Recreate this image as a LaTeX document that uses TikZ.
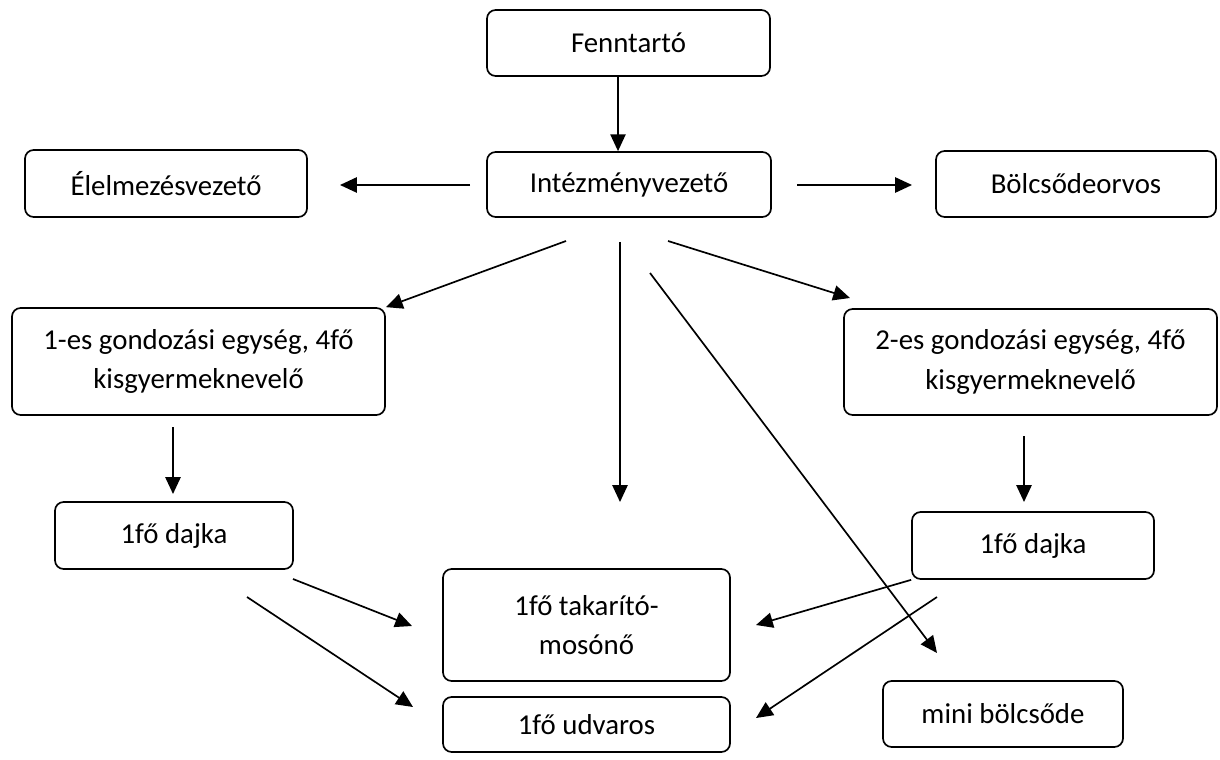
\documentclass[tikz,border=0pt]{standalone}
\usepackage{fontspec}
\setmainfont{Carlito}
\usetikzlibrary{arrows.meta}
\tikzset{every picture/.style={line width=1.2pt}}

\begin{document}
\begin{tikzpicture}[x=0.025cm,y=-0.025cm,
box/.style={draw,rounded corners=1.3ex,align=center,inner sep=0pt,font=\fontsize{20.5}{28}\selectfont},
arr/.style={-{Triangle[length=0.42cm,width=0.38cm]}}]
\useasboundingbox (0,0) rectangle (1220,760);
\node (fenn) at (628.5,43) [box,minimum width=7.075cm,minimum height=1.65cm] {Fenntartó};
\node (int) at (629,184.5) [box,minimum width=7.1cm,minimum height=1.625cm] {Intézményvezető};
\node (elel) at (166,183.5) [box,minimum width=7.05cm,minimum height=1.675cm] {Élelmezésvezető};
\node (orv) at (1076,184) [box,minimum width=7cm,minimum height=1.65cm] {Bölcsődeorvos};
\node (egy1) at (198.5,361.5) [box,minimum width=9.325cm,minimum height=2.675cm] {1-es gondozási egység, 4fő\\kisgyermeknevelő};
\node (egy2) at (1030.5,362) [box,minimum width=9.325cm,minimum height=2.65cm] {2-es gondozási egység, 4fő\\kisgyermeknevelő};
\node (dajka1) at (174,535.5) [box,minimum width=5.95cm,minimum height=1.675cm] {1fő dajka};
\node (dajka2) at (1033,545.5) [box,minimum width=6.05cm,minimum height=1.675cm] {1fő dajka};
\node (tak) at (586.5,625) [box,minimum width=7.175cm,minimum height=2.8cm] {1fő takarító-\\mosónő};
\node (udv) at (586.5,724.5) [box,minimum width=7.175cm,minimum height=1.375cm] {1fő udvaros};
\node (mini) at (1003,714) [box,minimum width=6cm,minimum height=1.65cm] {mini bölcsőde};
\coordinate (int-w) at (470,185);
\coordinate (elel-e) at (340,185);
\coordinate (int-e) at (797,185);
\coordinate (orv-w) at (912,185);
\coordinate (int-sw) at (566,241);
\coordinate (egy1-ne) at (egy1.north east);
\coordinate (int-se) at (668,241);
\coordinate (egy2-nw) at (850,298);
\coordinate (int-s) at (620,242);
\coordinate (le) at (620,502);
\coordinate (int-ss) at (650,273);
\coordinate (mini-n) at (937,653);
\coordinate (egy1-s) at (173,427);
\coordinate (dajka1-n) at (173,494);
\coordinate (egy2-s) at (1024,436);
\coordinate (dajka2-n) at (1024,502);
\coordinate (dajka1-se) at (293,579);
\coordinate (tak-w) at (412,626);
\coordinate (dajka1-s) at (247,597);
\coordinate (udv-w) at (413,707);
\coordinate (tak-e) at (756,625);
\coordinate (dajka2-s) at (937,597);
\coordinate (udv-e) at (756,718);
\draw[arr] (fenn.south -| 618,0) -- (int.north -| 618,0);
\foreach \a/\b in {int-w/elel-e,int-e/orv-w,int-sw/egy1-ne,int-se/egy2-nw,int-s/le,int-ss/mini-n,egy1-s/dajka1-n,egy2-s/dajka2-n,dajka1-se/tak-w,dajka1-s/udv-w,dajka2.south west/tak-e,dajka2-s/udv-e}
\draw[arr] (\a) -- (\b);
\end{tikzpicture}
\end{document}
